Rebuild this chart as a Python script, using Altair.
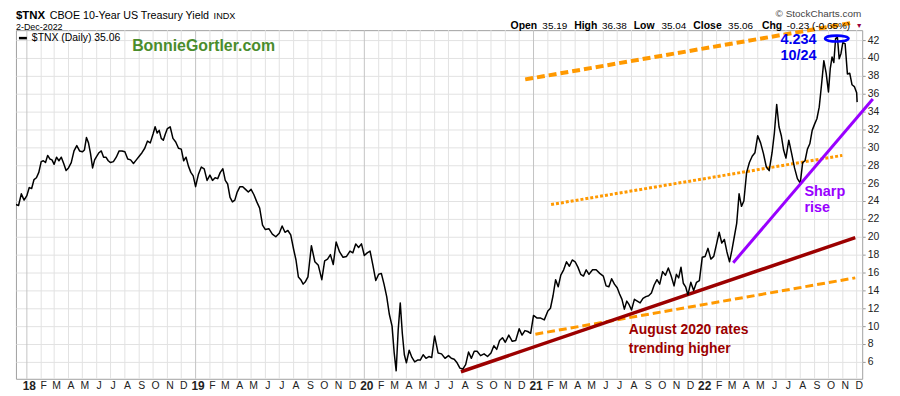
import altair as alt
import pandas as pd

FONT = "Liberation Sans"

# ---------------- data ----------------
# $TNX (10-year yield x10): readings within each month, in time order
tnx_months = [str(p) for p in pd.period_range("2017-12", "2022-12", freq="M")]
tnx_values = [
    [23.6, 23.5, 24.8, 24.1],                      # 2017-12 (from Dec 8)
    [24.6, 25.5, 25.4, 26.4, 26.6, 27.2],          # 2018-01
    [28.4, 28.5, 28.3, 29.1, 28.7, 28.6],
    [28.1, 28.9, 28.5, 28.9, 28.2, 27.4],
    [27.7, 28.3, 29.6, 30.2, 29.6],
    [29.5, 29.7, 31.1, 30.5, 29.3, 27.7, 28.6],
    [29.0, 29.4, 29.6, 28.9, 28.9, 28.5],
    [28.3, 28.4, 28.9, 29.6, 29.6],
    [29.5, 28.7, 28.6, 28.2, 28.6],
    [29.0, 29.4, 29.9, 30.7, 30.5],
    [31.5, 32.3, 31.6, 31.9, 31.0, 30.8, 31.5],
    [32.1, 32.3, 31.0, 30.6, 29.9],
    [29.8, 28.5, 28.9, 27.9, 27.2, 26.8],
    [25.6, 27.0, 27.8, 27.6, 26.3],                # 2019-01
    [26.9, 26.3, 26.6, 26.5, 27.2],
    [27.6, 26.3, 25.9, 24.4, 23.9, 24.1],
    [25.0, 25.6, 25.6, 25.3, 25.0],
    [25.3, 24.7, 23.9, 23.2, 21.3],
    [20.8, 20.9, 20.3, 20.0],
    [20.4, 21.2, 20.5, 20.7, 20.2],
    [18.6, 17.4, 15.5, 15.2, 14.7, 15.0],
    [15.5, 19.0, 17.2, 16.8],
    [15.2, 17.3, 17.5, 18.0, 16.9],
    [19.4, 18.3, 17.7, 17.8],
    [18.4, 18.2, 19.2, 18.8, 19.2],
    [17.9, 18.2, 18.4, 16.8, 15.1],                # 2020-01
    [15.8, 15.9, 14.7, 13.3, 11.3],
    [10.0, 7.1, 5.0, 9.6, 12.6, 9.2, 6.8],
    [5.9, 7.3, 6.5, 6.0, 6.2],
    [6.2, 6.8, 6.4, 6.6, 6.5],
    [8.9, 7.0, 6.9, 6.4],
    [6.7, 6.4, 6.3, 5.9, 5.3],
    [5.2, 5.7, 7.1, 6.4, 7.2],
    [7.2, 6.7, 6.9, 6.6],
    [7.0, 7.8, 7.4, 8.4, 8.7],
    [8.2, 9.0, 8.3, 8.4],
    [9.7, 9.0, 9.5, 9.4, 9.2],
    [11.2, 10.9, 10.9, 10.7],                      # 2021-01
    [11.7, 12.0, 13.4, 15.2, 14.4],
    [15.7, 16.3, 17.2, 16.7, 17.4],
    [17.2, 16.6, 15.8, 15.6, 16.3],
    [15.8, 16.3, 16.3, 15.9],
    [15.6, 14.5, 14.4, 15.3, 14.7],
    [14.3, 13.6, 13.0, 11.9, 12.8, 12.4],
    [11.8, 13.0, 12.8, 12.6, 13.1],
    [13.3, 13.4, 13.7, 14.6, 15.2],
    [14.7, 16.1, 15.7, 16.5, 15.6],
    [14.5, 15.8, 15.4, 16.6, 14.8, 14.4],
    [13.5, 14.9, 14.0, 14.9, 15.1],
    [17.7, 17.8, 18.7, 17.5, 17.8],                # 2022-01
    [19.2, 20.5, 19.3, 19.7, 18.3],
    [17.2, 18.5, 20.0, 21.5, 24.8, 23.4],
    [24.0, 27.2, 28.3, 29.0, 29.4],
    [31.3, 30.5, 29.3, 27.8, 27.4],
    [29.4, 31.6, 34.8, 32.3, 31.3, 29.7],
    [28.8, 30.8, 29.3, 27.7, 26.5],
    [26.0, 28.3, 28.5, 29.8, 30.4, 31.9],
    [32.6, 33.2, 34.5, 37.0, 39.7, 38.3],
    [36.2, 38.8, 40.1, 39.5, 42.2, 42.3, 39.9, 40.5],
    [41.7, 41.6, 38.2, 38.3, 37.0, 36.8],
    [36.1, 35.06],                                 # 2022-12 (to Dec 2)
]
first_day = pd.Timestamp("2017-12-08")
last_day = pd.Timestamp("2022-12-02")

# trend lines drawn on the chart
trend_names = ["upper", "middle", "lower", "august", "sharp"]
trend_start = ["2020-12-14", "2021-02-08", "2021-01-05", "2020-07-28", "2022-03-09"]
trend_v0 = [37.6, 23.6, 9.1, 4.9, 17.1]
trend_end = ["2022-11-17", "2022-10-31", "2022-11-28", "2022-11-28", "2023-01-05"]
trend_v1 = [43.9, 29.1, 15.4, 19.9, 35.4]

# peak marker
peak_date = ["2022-10-19"]
peak_val = [42.17]

# annotations
ann_text = ["4.234", "10/24", "Sharp", "rise", "August 2020 rates", "trending higher"]
ann_group = ["blue", "blue", "purple", "purple", "red", "red"]
ann_date = ["2022-09-05", "2022-09-05", "2022-08-10", "2022-08-10", "2021-07-26", "2021-07-26"]
ann_val = [42.0, 40.2, 25.0, 23.2, 9.56, 7.44]

y_ticks = list(range(6, 43, 2))

# ---------------- build tables ----------------
rows = []
for m, vals in zip(tnx_months, tnx_values):
    start = pd.Timestamp(m + "-01")
    nxt = start + pd.offsets.MonthBegin(1)
    start = max(start, first_day)
    end = min(nxt, last_day + pd.Timedelta(days=1))
    n = len(vals)
    for i, v in enumerate(vals):
        rows.append({"date": start + (end - start) * i / n, "v": v})
tnx = pd.DataFrame(rows)

trends = pd.DataFrame({
    "name": trend_names,
    "d0": pd.to_datetime(trend_start), "v0": trend_v0,
    "d1": pd.to_datetime(trend_end), "v1": trend_v1,
})
peak = pd.DataFrame({"date": pd.to_datetime(peak_date), "v": peak_val})
ann = pd.DataFrame({"t": ann_text, "g": ann_group, "date": pd.to_datetime(ann_date), "v": ann_val})

month_starts = pd.date_range("2018-01-01", "2022-12-01", freq="MS")
vgrid = pd.DataFrame({"date": month_starts, "year": [d.month == 1 for d in month_starts]})

X_SCALE = alt.Scale(domain=[alt.DateTime(year=2017, month=12, date=8, hours=9),
                            alt.DateTime(year=2022, month=12, date=13)])
Y_SCALE = alt.Scale(domain=[4.11, 43.11], zero=False, nice=False)

is_jan = "month(datum.value)==0"
x_axis = alt.Axis(
    values=[alt.DateTime(year=d.year, month=d.month, date=1) for d in month_starts],
    labelExpr="month(datum.value)==0 ? timeFormat(datum.value,'%y') : substring(timeFormat(datum.value,'%b'),0,1)",
    labelFontWeight={"condition": {"test": is_jan, "value": "bold"}, "value": "normal"},
    labelFontSize={"condition": {"test": is_jan, "value": 12}, "value": 10.5},
    grid=False, ticks=False, domain=False, labelFlush=False, labelOverlap=False,
    labelPadding=2, labelOffset=2, labelColor="#222", labelFont=FONT, title=None,
)
y_axis = alt.Axis(
    orient="right", values=y_ticks, grid=True, gridColor="#e2e2e2", gridWidth=1,
    domain=False, ticks=True, tickSize=3, tickColor="#999", labelPadding=2,
    labelFontSize=10.5, labelColor="#222", labelFont=FONT, title=None,
)

X = lambda f="date": alt.X(f"{f}:T", scale=X_SCALE, axis=x_axis)
Y = lambda f="v": alt.Y(f"{f}:Q", scale=Y_SCALE, axis=y_axis)

grid_layer = alt.Chart(vgrid).mark_rule(strokeWidth=1).encode(
    x=X(),
    color=alt.condition("datum.year", alt.value("#c4c4c4"), alt.value("#e2e2e2")),
)

def trend(name, color, width, dash=None):
    kw = dict(color=color, strokeWidth=width, strokeCap="butt")
    if dash:
        kw["strokeDash"] = dash
    return alt.Chart(trends[trends.name == name]).mark_rule(**kw).encode(
        x=X("d0"), x2="d1:T", y=Y("v0"), y2="v1:Q")

line_layer = alt.Chart(tnx).mark_line(color="black", strokeWidth=1.5, clip=True,
                                      strokeJoin="round").encode(x=X(), y=Y())

ellipse = alt.Chart(peak).mark_point(
    shape="M-1,0A1,0.25,0,1,1,1,0A1,0.25,0,1,1,-1,0Z", size=560, filled=False,
    stroke="#0000ff", strokeWidth=2.6, opacity=1,
).encode(x=X(), y=Y())

def ann_layer(group, color, align, size):
    return alt.Chart(ann[ann.g == group]).mark_text(
        align=align, baseline="middle", font=FONT, fontWeight="bold",
        fontSize=size, color=color,
    ).encode(x=X(), y=Y(), text="t:N")

def px_text(txt, x, y, size, weight="normal", color="#000", align="left",
            baseline="alphabetic", font=FONT):
    return alt.Chart(pd.DataFrame({"t": [txt]})).mark_text(
        align=align, baseline=baseline, fontSize=size, fontWeight=weight,
        color=color, font=font,
    ).encode(x=alt.value(x), y=alt.value(y), text="t:N")

ROW1 = -11
ROW2 = -1.5
header = [
    px_text("$TNX", 0, ROW1, 11.5, "bold"),
    px_text("CBOE 10-Year US Treasury Yield", 34, ROW1, 10.8),
    px_text("INDX", 199, ROW1, 9.2),
    px_text("2-Dec-2022", 0, -0.5, 9),
    px_text("\u00a9 StockCharts.com", 851, -13, 10, color="#444", align="right"),
    px_text("Open", 498, ROW2, 10.5, "bold"),
    px_text("35.19", 530, ROW2, 10),
    px_text("High", 562, ROW2, 10.5, "bold"),
    px_text("36.38", 590, ROW2, 10),
    px_text("Low", 622, ROW2, 10.5, "bold"),
    px_text("35.04", 650, ROW2, 10),
    px_text("Close", 682, ROW2, 10.5, "bold"),
    px_text("35.06", 717, ROW2, 10),
    px_text("Chg", 751, ROW2, 10.5, "bold"),
    px_text("-0.23 (-0.65%)", 776, ROW2, 10),
    px_text("\u25bc", 849, ROW2 - 1, 7, color="#99003d", align="center"),
    px_text("$TNX (Daily) 35.06", 16, 8, 10.5, baseline="middle"),
    px_text("BonnieGortler.com", 117, 16, 16, "bold", color="#4a8c2c", baseline="middle"),
]
legend_dash = alt.Chart(pd.DataFrame({"a": [0]})).mark_rule(
    color="black", strokeWidth=2.5).encode(x=alt.value(3), x2=alt.value(11), y=alt.value(8))

chart = alt.layer(
    grid_layer,
    trend("upper", "#ff9900", 4, [8, 4]),
    trend("middle", "#ff9900", 3, [3, 2]),
    trend("lower", "#ff9900", 3, [8, 4]),
    trend("august", "#9c0000", 3.5),
    line_layer,
    trend("sharp", "#9900ff", 3),
    ellipse,
    ann_layer("blue", "#0000ee", "right", 14.5),
    ann_layer("purple", "#9900ff", "left", 14.5),
    ann_layer("red", "#9c0000", "left", 14),
    legend_dash,
    *header,
).properties(
    width=852, height=351,
    padding={"left": 8, "top": 21, "right": 30, "bottom": 14},
    autosize=alt.AutoSizeParams(type="none"),
).configure_view(stroke="#a0a0a0", strokeWidth=1)

chart.save("out.html", embed_options={"renderer": "svg", "actions": False})
